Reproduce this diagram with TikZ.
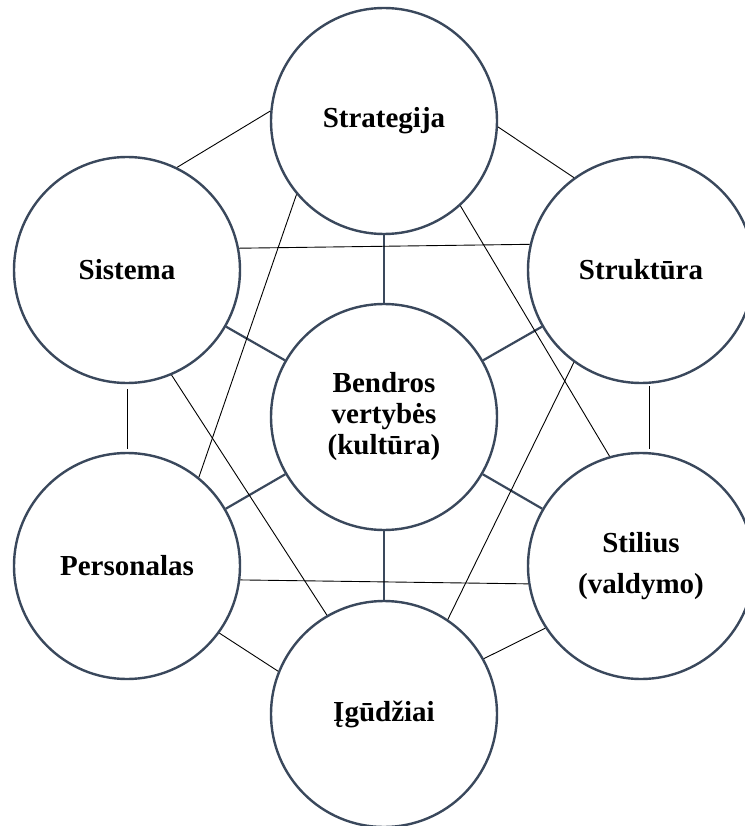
\documentclass[tikz,border=0pt]{standalone}
\usepackage{fontspec}
\setmainfont{Liberation Serif}
\definecolor{ring}{RGB}{58,72,92}
\begin{document}
\begin{tikzpicture}[x=1pt,y=-1pt,
  circ/.style={circle, draw=ring, fill=white, line width=2.4pt, minimum size=226pt,
    inner sep=0pt, align=center, font=\bfseries\fontsize{29}{31}\selectfont},
  spoke/.style={draw=ring, line width=2.2pt},
  thin/.style={draw=black, line width=0.9pt}]
\useasboundingbox[fill=white] (0,0) rectangle (744,826);
\node[circ] (strat) at (384,121) {Strategija};
\node[circ] (sis) at (127,270) {Sistema};
\node[circ] (str) at (641,270) {Struktūra};
\node[circ] (c) at (384,417) {Bendros\\vertybės\\(kultūra)};
\node[circ] (per) at (127,566) {Personalas};
\node[circ] (sti) at (641,566) {Stilius\\[10pt](valdymo)};
\node[circ] (ig) at (384,714) {Įgūdžiai};
% spokes
\draw[spoke] (c) -- (strat);
\draw[spoke] (c) -- (sis);
\draw[spoke] (c) -- (str);
\draw[spoke] (c) -- (per);
\draw[spoke] (c) -- (sti);
\draw[spoke] (c) -- (ig);
% outer connections
\draw[thin] (sis.64) -- (strat.175);
\draw[thin] (strat.-3.5) -- (str.126);
\draw[thin] (sis.11) -- (str.167);
\draw[thin] (strat.220) -- (per.51);
\draw[thin] (strat.-48) -- (sti.106);
\draw[thin] (sis.-67) -- (ig.120);
\draw[thin] (str.234) -- (ig.56);
\draw[thin, shorten <=5pt, shorten >=3pt] (sis.-90) -- (per.90);
\draw[thin, shorten <=2pt, shorten >=3pt] (str.-86) -- (sti.86);
\draw[thin] (per.-7.5) -- (sti.189);
\draw[thin] (per.-36.5) -- (ig.158.6);
\draw[thin] (sti.213) -- (ig.29);
\end{tikzpicture}
\end{document}
